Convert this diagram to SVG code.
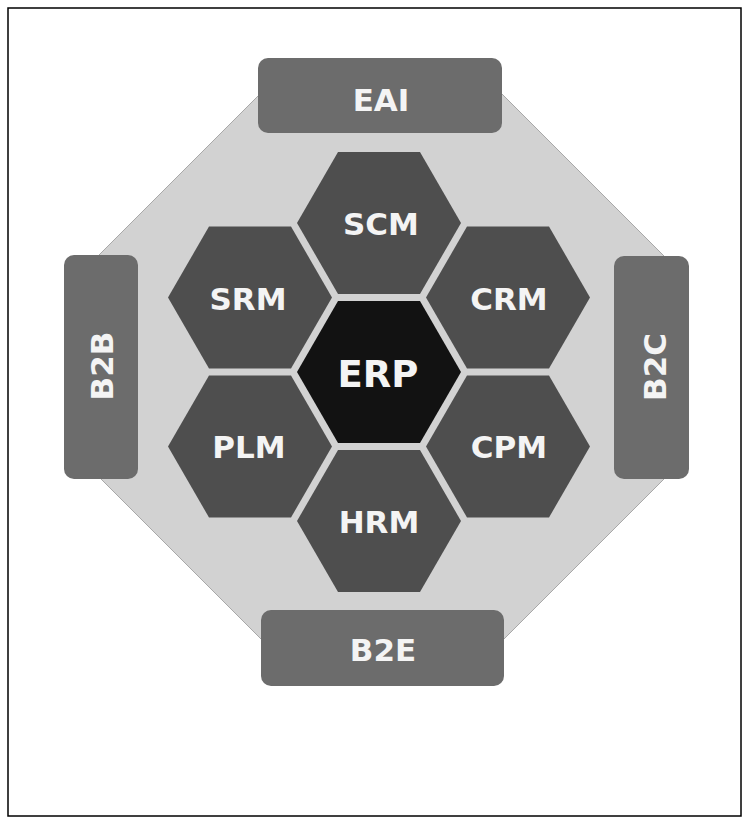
<svg xmlns="http://www.w3.org/2000/svg" width="749" height="824" viewBox="0 0 749 824">
<style>
.frame{fill:#ffffff;stroke:#000000;stroke-width:1.5}
.oct{fill:#d2d2d2;stroke:#a8a8a8;stroke-width:1}
.bar{fill:#6c6c6c}
.hex{fill:#4e4e4e}
.core{fill:#121212}
.lbl{font-family:"DejaVu Sans","Verdana",sans-serif;font-weight:bold;fill:#f4f4f4;text-anchor:middle;font-size:31px}
.big{font-size:37px}
</style>
<defs>
<polygon id="hexshape" points="-82,0 -41,-71 41,-71 82,0 41,71 -41,71"/>
</defs>
<rect class="frame" x="8" y="8" width="733" height="808"/>
<polygon id="octagon" class="oct" points="264,90 498,90 666,258 666,477 498,645 267,645 96,474 96,258"/>
<g id="connectors"/>
<g id="eai"><rect class="bar" x="258" y="58" width="244" height="75" rx="10"/><text class="lbl" x="381" y="111">EAI</text></g>
<g id="b2e"><rect class="bar" x="261" y="610" width="243" height="76" rx="10"/><text class="lbl" x="383" y="661">B2E</text></g>
<g id="b2b"><rect class="bar" x="64" y="255" width="74" height="224" rx="10"/><text class="lbl" transform="translate(113,366) rotate(-90)" x="0" y="0">B2B</text></g>
<g id="b2c"><rect class="bar" x="614" y="256" width="75" height="223" rx="10"/><text class="lbl" transform="translate(666,367) rotate(-90)" x="0" y="0">B2C</text></g>
<g id="scm"><use href="#hexshape" class="hex" x="379" y="223"/><text class="lbl" x="381" y="234.5">SCM</text></g>
<g id="srm"><use href="#hexshape" class="hex" x="250" y="297.5"/><text class="lbl" x="248" y="309.5">SRM</text></g>
<g id="crm"><use href="#hexshape" class="hex" x="508" y="297.5"/><text class="lbl" x="509" y="309.5">CRM</text></g>
<g id="erp"><use href="#hexshape" class="core" x="379" y="372"/><text class="lbl big" x="378" y="387">ERP</text></g>
<g id="plm"><use href="#hexshape" class="hex" x="250" y="446.5"/><text class="lbl" x="249" y="458">PLM</text></g>
<g id="cpm"><use href="#hexshape" class="hex" x="508" y="446.5"/><text class="lbl" x="509" y="458">CPM</text></g>
<g id="hrm"><use href="#hexshape" class="hex" x="379" y="521"/><text class="lbl" x="379" y="532.5">HRM</text></g>
</svg>
